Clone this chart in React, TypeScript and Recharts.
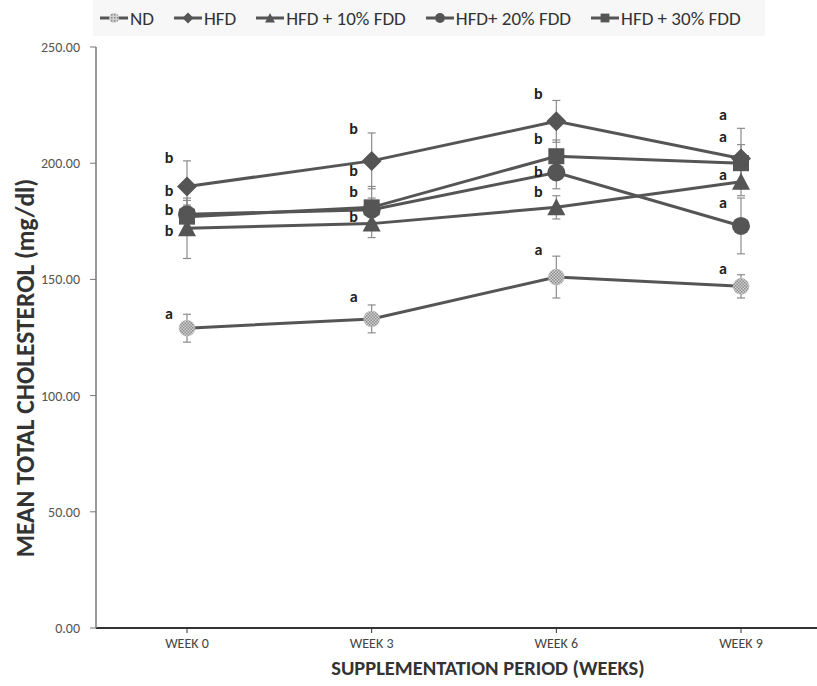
import React from "react";
import {
  LineChart,
  Line,
  XAxis,
  YAxis,
  ErrorBar,
  LabelList,
  Legend,
  Label,
} from "recharts";

// categories
const weeks = ["WEEK 0", "WEEK 3", "WEEK 6", "WEEK 9"];

// series means (mg/dl)
const nd = [129, 133, 151, 147];
const hfd = [190, 201, 218, 202];
const fdd10 = [172, 174, 181, 192];
const fdd20 = [178, 180, 196, 173];
const fdd30 = [177, 181, 203, 200];

// error bars (+/-)
const ndErr = [6, 6, 9, 5];
const hfdErr = [11, 12, 9, 13];
const fdd10Err = [13, 6, 5, 6];
const fdd20Err = [6, 5, 7, 12];
const fdd30Err = [5, 9, 7, 8];

// significance letters
const ndLetters = ["a", "a", "a", "a"];
const hfdLetters = ["b", "b", "b", "a"];
const fdd10Letters = ["b", "b", "b", "a"];
const fdd20Letters = ["b", "b", "b", "a"];
const fdd30Letters = ["b", "b", "b", "a"];

const yTicks = [0, 50, 100, 150, 200, 250];

const data = weeks.map((w, i) => ({
  week: w,
  nd: nd[i],
  ndErr: ndErr[i],
  ndL: ndLetters[i],
  hfd: hfd[i],
  hfdErr: hfdErr[i],
  hfdL: hfdLetters[i],
  fdd10: fdd10[i],
  fdd10Err: fdd10Err[i],
  fdd10L: fdd10Letters[i],
  fdd20: fdd20[i],
  fdd20Err: fdd20Err[i],
  fdd20L: fdd20Letters[i],
  fdd30: fdd30[i],
  fdd30Err: fdd30Err[i],
  fdd30L: fdd30Letters[i],
}));

// where each letter sits relative to its point (layout only)
const LETTER_DY: Record<string, number[]> = {
  nd: [-15, -22, -28, -18],
  hfd: [-29, -32, -28, -44],
  fdd10: [2, -7, -16, -7],
  fdd20: [-24, -39, -1, -23],
  fdd30: [-7, -16, -18, -27],
};

const INK = "#555";
const FONT = "Carlito, Lato, 'Open Sans', sans-serif";

function Marker({ shape, cx, cy, s = 1 }: any) {
  if (cx == null || cy == null) return null;
  switch (shape) {
    case "diamond":
      return (
        <polygon
          points={`${cx},${cy - 10 * s} ${cx + 10 * s},${cy} ${cx},${cy + 10 * s} ${cx - 10 * s},${cy}`}
          fill={INK}
        />
      );
    case "triangle":
      return (
        <polygon
          points={`${cx},${cy - 9 * s} ${cx + 9 * s},${cy + 8 * s} ${cx - 9 * s},${cy + 8 * s}`}
          fill={INK}
        />
      );
    case "square":
      return <rect x={cx - 8 * s} y={cy - 8 * s} width={16 * s} height={16 * s} fill={INK} />;
    case "circle":
      return <circle cx={cx} cy={cy} r={9 * s} fill={INK} />;
    default:
      return <circle cx={cx} cy={cy} r={8 * s} fill="url(#checker)" stroke="#bbb" strokeWidth={0.5} />;
  }
}

const dotFor = (shape: string, name: string) => (p: any) =>
  <Marker key={`${name}-${p.index}`} shape={shape} cx={p.cx} cy={p.cy} />;

const letterFor = (name: string) => (p: any) => {
  const { x, y, index, value } = p;
  if (x == null) return null;
  return (
    <text
      key={`${name}-l-${index}`}
      x={x - 18}
      y={y + LETTER_DY[name][index]}
      textAnchor="middle"
      dominantBaseline="central"
      fontSize={16}
      fontWeight={700}
      fontFamily={FONT}
      fill="#222"
    >
      {value}
    </text>
  );
};

const legendItems = [
  { label: "ND", shape: "nd" },
  { label: "HFD", shape: "diamond" },
  { label: "HFD + 10% FDD", shape: "triangle" },
  { label: "HFD+ 20% FDD", shape: "circle" },
  { label: "HFD + 30% FDD", shape: "square" },
];

function LegendBox() {
  return (
    <div
      style={{
        display: "flex",
        alignItems: "center",
        gap: 19,
        height: 36,
        paddingLeft: 6,
        background: "#f7f7f7",
        fontFamily: FONT,
        fontSize: 19,
        color: "#333",
        whiteSpace: "nowrap",
      }}
    >
      {legendItems.map((it) => (
        <div key={it.label} style={{ display: "flex", alignItems: "center" }}>
          <svg width={30} height={14}>
            <defs>
              <pattern id={`lchk-${it.shape}`} width={3} height={3} patternUnits="userSpaceOnUse">
                <rect width={3} height={3} fill="#d0d0d0" />
                <rect width={1.5} height={1.5} fill="#8a8a8a" />
              </pattern>
            </defs>
            <line x1={1} y1={7} x2={29} y2={7} stroke={INK} strokeWidth={3} />
            {it.shape === "nd" ? (
              <circle cx={15} cy={7} r={5} fill={`url(#lchk-nd)`} />
            ) : (
              <Marker shape={it.shape} cx={15} cy={7} s={0.55} />
            )}
          </svg>
          <span style={{ marginLeft: 1 }}>{it.label}</span>
        </div>
      ))}
    </div>
  );
}

export default function App() {
  return (
    <div style={{ position: "absolute", left: 0, top: 0, fontFamily: FONT }}>
      <LineChart width={817} height={686} data={data} margin={{ top: 11, right: 0, bottom: 0, left: 0 }}>
        <defs>
          <pattern id="checker" width={3} height={3} patternUnits="userSpaceOnUse">
            <rect width={3} height={3} fill="#d4d4d4" />
            <rect width={1.5} height={1.5} fill="#8a8a8a" />
            <rect x={1.5} y={1.5} width={1.5} height={1.5} fill="#8a8a8a" />
          </pattern>
        </defs>
        <Legend
          verticalAlign="top"
          align="left"
          content={<LegendBox />}
          wrapperStyle={{ top: 0, left: 93, width: 672, height: 36 }}
        />
        <XAxis
          dataKey="week"
          scale="point"
          padding={{ left: 91, right: 76 }}
          height={58}
          tick={{ fontSize: 14, fill: "#444", fontFamily: FONT }}
          tickSize={5}
          tickMargin={5}
          axisLine={{ stroke: "#333", strokeWidth: 2 }}
          tickLine={{ stroke: "#333" }}
        >
          <Label
            content={() => (
              <text
                x={488}
                y={675}
                textAnchor="middle"
                fontSize={20.5}
                fontWeight={700}
                fontFamily={FONT}
                fill="#333"
              >
                SUPPLEMENTATION PERIOD (WEEKS)
              </text>
            )}
          />
        </XAxis>
        <YAxis
          width={96}
          domain={[0, 250]}
          ticks={yTicks}
          tickFormatter={(v: number) => v.toFixed(2)}
          tick={{ fontSize: 14, fill: "#555", fontFamily: FONT }}
          tickSize={6}
          tickMargin={10}
          axisLine={{ stroke: "#777", strokeWidth: 1.5 }}
          tickLine={{ stroke: "#777" }}
        >
          <Label
            content={() => (
              <text
                x={25}
                y={368}
                transform="rotate(-90 25 368)"
                textAnchor="middle"
                dominantBaseline="central"
                fontSize={25.5}
                fontWeight={700}
                fontFamily={FONT}
                fill="#333"
              >
                MEAN TOTAL CHOLESTEROL (mg/dl)
              </text>
            )}
          />
        </YAxis>

        <Line dataKey="nd" stroke={INK} strokeWidth={3} dot={dotFor("nd", "nd")} isAnimationActive={false}>
          <ErrorBar dataKey="ndErr" width={4} stroke="#8c8c8c" strokeWidth={1.2} />
          <LabelList dataKey="ndL" content={letterFor("nd")} />
        </Line>
        <Line dataKey="fdd10" stroke={INK} strokeWidth={3} dot={dotFor("triangle", "fdd10")} isAnimationActive={false}>
          <ErrorBar dataKey="fdd10Err" width={4} stroke="#8c8c8c" strokeWidth={1.2} />
          <LabelList dataKey="fdd10L" content={letterFor("fdd10")} />
        </Line>
        <Line dataKey="fdd20" stroke={INK} strokeWidth={3} dot={dotFor("circle", "fdd20")} isAnimationActive={false}>
          <ErrorBar dataKey="fdd20Err" width={4} stroke="#8c8c8c" strokeWidth={1.2} />
          <LabelList dataKey="fdd20L" content={letterFor("fdd20")} />
        </Line>
        <Line dataKey="fdd30" stroke={INK} strokeWidth={3} dot={dotFor("square", "fdd30")} isAnimationActive={false}>
          <ErrorBar dataKey="fdd30Err" width={4} stroke="#8c8c8c" strokeWidth={1.2} />
          <LabelList dataKey="fdd30L" content={letterFor("fdd30")} />
        </Line>
        <Line dataKey="hfd" stroke={INK} strokeWidth={3} dot={dotFor("diamond", "hfd")} isAnimationActive={false}>
          <ErrorBar dataKey="hfdErr" width={4} stroke="#8c8c8c" strokeWidth={1.2} />
          <LabelList dataKey="hfdL" content={letterFor("hfd")} />
        </Line>
      </LineChart>
    </div>
  );
}
